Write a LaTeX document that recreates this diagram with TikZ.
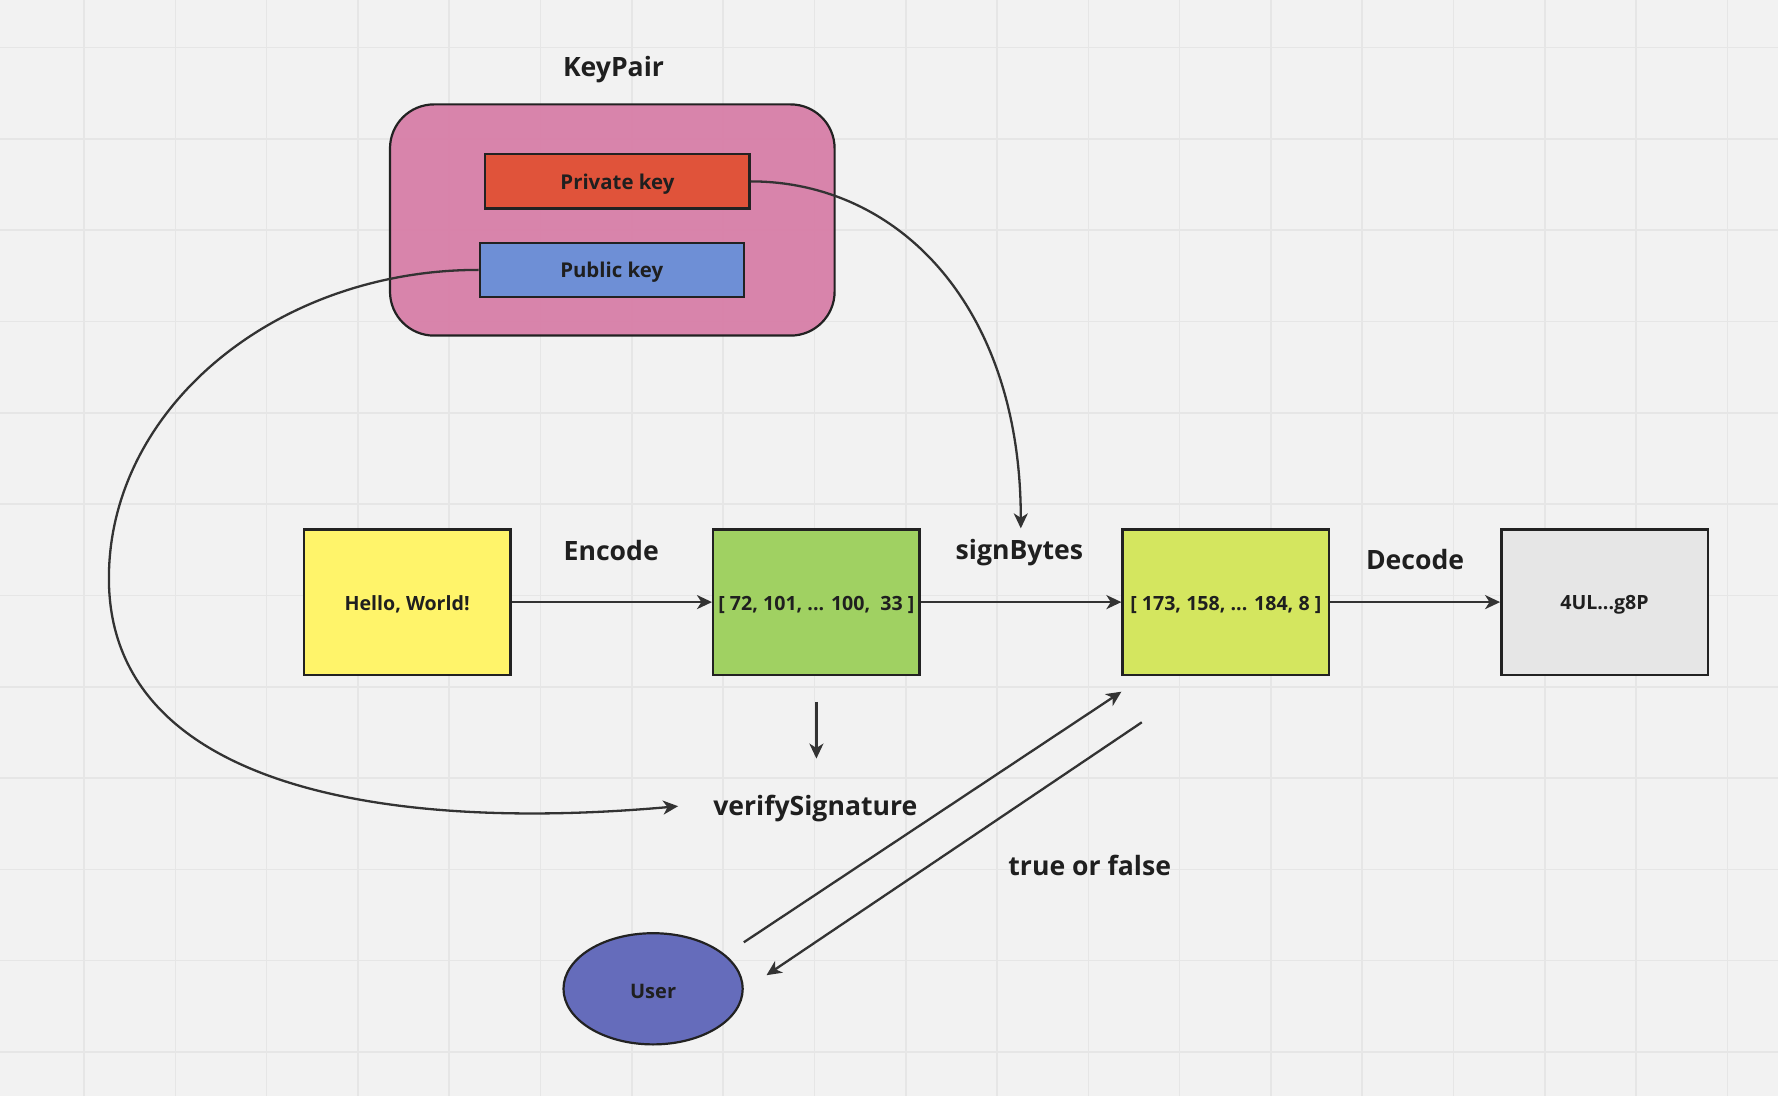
\documentclass[tikz,border=0pt]{standalone}
\usepackage{fontspec}
\setmainfont{Open Sans}
\usetikzlibrary{arrows.meta,shapes.geometric}
\definecolor{bgc}{HTML}{F2F2F2}
\definecolor{gridc}{HTML}{E6E6E6}
\definecolor{pinkc}{HTML}{D77CA6}
\definecolor{privc}{HTML}{E0533A}
\definecolor{pubc}{HTML}{6E8FD6}
\definecolor{yelc}{HTML}{FFF46A}
\definecolor{grnc}{HTML}{A0D162}
\definecolor{limec}{HTML}{D4E65F}
\definecolor{grayc}{HTML}{E6E6E6}
\definecolor{userc}{HTML}{656CBB}
\definecolor{linec}{HTML}{333333}
\definecolor{borderc}{HTML}{222222}
\definecolor{txtc}{HTML}{1F1F1F}
\begin{document}
\begin{tikzpicture}[x=0.5pt,y=-0.5pt,
  gridl/.style={draw=gridc,line width=0.8pt},
  lbl/.style={font=\bfseries\fontsize{13.3}{15}\selectfont,text=txtc,inner sep=0pt},
  databox/.style={draw=borderc,line width=1.2pt,minimum width=103.2pt,minimum height=72.6pt,inner sep=0pt},
  boxtxt/.style={font=\bfseries\fontsize{9.8}{12}\selectfont,text=txtc,inner sep=0pt},
  keybox/.style={draw=borderc,line width=1.1pt,minimum width=132.1pt,minimum height=27.2pt,inner sep=0pt},
  keytxt/.style={font=\bfseries\fontsize{10.2}{12}\selectfont,text=txtc,inner sep=0pt},
  pinkbox/.style={draw=borderc,line width=1.1pt,fill=pinkc,fill opacity=0.93,rounded corners=22pt,minimum width=222.3pt,minimum height=115.6pt,inner sep=0pt},
  conn/.style={draw=linec,line width=1.15pt,-{Stealth[length=7.5pt,width=7pt,inset=2.2pt]}}
]
\fill[bgc] (0,0) rectangle (1778,1096);
\useasboundingbox (0,0) rectangle (1778,1096);
\foreach \i in {0,...,18} \draw[gridl] ({84+91.3*\i},0) -- ({84+91.3*\i},1096);
\foreach \j in {0,...,11} \draw[gridl] (0,{47.6+91.3*\j}) -- (1778,{47.6+91.3*\j});

% KeyPair group
\node[pinkbox] (kp) at (612.3,220) {};
\node[lbl] (kpl) at (613.5,69.2) {KeyPair};
\node[keybox,fill=privc] (priv) at (617.4,181.4) {};
\node[keytxt] (privt) at (617.4,184.2) {Private key};
\node[keybox,fill=pubc] (pub) at (611.7,269.9) {};
\node[keytxt] (pubt) at (611.7,272.7) {Public key};

% data boxes
\node[databox,fill=yelc] (hello) at (407.1,602.1) {};
\node[boxtxt] (hellot) at (407.1,604.6) {Hello, World!};
\node[databox,fill=grnc] (enc) at (816.4,602.1) {};
\node[boxtxt] (enct) at (816.4,604.6) {[ 72, 101, ... 100,~ 33 ]};
\node[databox,fill=limec] (sig) at (1225.8,602.1) {};
\node[boxtxt] (sigt) at (1225.8,604.6) {[ 173, 158, ... 184, 8 ]};
\node[databox,fill=grayc] (dec) at (1604.5,602.1) {};
\node[boxtxt] (dect) at (1604.5,604.6) {4UL...g8P};

% labels
\node[lbl] (encl) at (611.2,550.3) {Encode};
\node[lbl] (signl) at (1019.4,552.2) {signBytes};
\node[lbl] (decl) at (1415.1,559.4) {Decode};
\node[lbl] (verl) at (815.3,808.5) {verifySignature};
\node[lbl] (tfl) at (1089.7,865.6) {true or false};

% user
\node[ellipse,draw=borderc,line width=1.1pt,fill=userc,minimum width=89.6pt,minimum height=55.6pt,inner sep=0pt] (user) at (653.1,988.8) {};
\node[font=\bfseries\fontsize{10}{12}\selectfont,text=txtc,inner sep=0pt] (usert) at (653.1,991.3) {User};

% free-end coordinates
\coordinate (signin) at (1020.8,528.4);
\coordinate (verin) at (678.1,806.2);
\coordinate (downs) at (816.4,701.9);
\coordinate (downe) at (816.4,758.6);
\coordinate (ua) at (743.8,942.3);
\coordinate (ub) at (1121.4,691.7);
\coordinate (uc) at (1141.8,722.3);
\coordinate (ud) at (766.5,975.2);

% connectors
\draw[conn] (hello) -- (enc);
\draw[conn] (enc) -- (sig);
\draw[conn] (sig) -- (dec);
\draw[conn] (priv.east) .. controls (900,181.4) and (1020.8,308) .. (signin);
\draw[conn] (pub.west) .. controls (275.5,269.9) and (108.9,408.2) .. (108.9,578.3) .. controls (108.9,782.4) and (374.2,833.4) .. (verin);
\draw[conn] (downs) -- (downe);
\draw[conn] (ua) -- (ub);
\draw[conn] (uc) -- (ud);
\end{tikzpicture}
\end{document}
